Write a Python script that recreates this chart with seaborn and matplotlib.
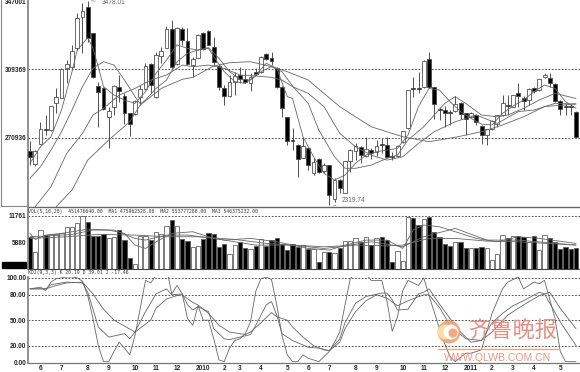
import matplotlib.pyplot as plt
from matplotlib.patches import Circle, Rectangle
import numpy as np
import pandas as pd
import seaborn as sns

# weekly candles
opens = [2634,2559,2675,2757,2752,2905,2933,3098,3107,3210,3387,3440,3294,3000,2987,2823,2883,2995,2942,2845,
         2843,2935,2980,3120,2939,3169,3214,3320,3122,3318,3253,3114,3156,3296,3309,3217,3109,2985,2942,3023,
         3060,3040,3017,3075,3077,3176,3157,3100,2993,2825,2696,2668,2596,2651,2512,2591,2522,2553,2363,2471,
         2400,2580,2636,2658,2608,2638,2628,2671,2668,2606,2606,2683,2761,2989,2987,2993,3148,2991,2870,2862,
         2853,2858,2903,2845,2826,2838,2774,2724,2755,2785,2836,2890,2883,2957,2929,2920,2989,2976,3047,3045,
         3008,2914,2886,2886,2855]
closes = [2602,2634,2755,2750,2884,2935,3094,3120,3193,3378,3419,3270,3051,2967,2868,2860,2997,2970,2845,2783,
          2914,2980,3113,3004,3172,3193,3316,3103,3324,3257,3122,3148,3285,3204,3230,3135,2995,2944,3023,3057,
          3038,3021,3047,3068,3163,3150,3137,2991,2877,2692,2692,2589,2664,2557,2570,2516,2555,2385,2471,2424,
          2576,2639,2660,2610,2643,2621,2660,2668,2600,2598,2662,2744,2974,2982,2984,3139,2991,2898,2866,2849,
          2849,2899,2840,2812,2847,2798,2722,2755,2804,2834,2903,2884,2946,2942,2916,2980,2972,3036,3058,3017,
          2916,2870,2883,2883,2714]
highs = [2692,2639,2798,2836,2886,2985,3098,3144,3229,3406,3462,3478,3298,3023,2991,2883,3004,3060,2957,2849,
         2920,3004,3126,3126,3191,3219,3335,3369,3328,3331,3322,3163,3288,3303,3313,3275,3116,3004,3060,3079,
         3107,3088,3070,3098,3167,3186,3191,3107,2999,2826,2761,2671,2714,2654,2593,2595,2565,2557,2481,2475,
         2580,2643,2677,2662,2711,2649,2696,2705,2711,2630,2666,2748,2978,3047,3079,3144,3191,2995,2883,2886,
         2864,2942,2907,2849,2851,2841,2780,2759,2808,2838,2948,2948,2950,3013,2942,2985,2995,3040,3073,3073,
         3013,2920,2901,2898,2858]
lows = [2555,2552,2671,2724,2748,2845,2929,3017,3088,3200,3182,3247,3042,2770,2864,2649,2836,2911,2785,2718,
        2836,2892,2976,2957,2929,3126,3210,3098,3116,3229,3116,3047,3154,3200,3227,3116,2976,2892,2935,2948,
        3013,3013,2972,3060,3073,3144,3116,2985,2826,2668,2639,2490,2593,2527,2499,2512,2512,2331,2350,2396,
        2396,2518,2583,2565,2602,2587,2606,2621,2596,2583,2602,2679,2757,2939,2961,2989,2987,2812,2808,2770,
        2780,2855,2812,2724,2817,2780,2673,2668,2752,2767,2832,2836,2879,2883,2864,2892,2957,2972,3043,2995,
        2911,2836,2836,2836,2711]

# the four price averages
ma_a_idx = [0,2,4,6,8,9,11,12,13,14,16,18,20,22,24,26,28,30,32,34,35,37,39,41,43,45,47,49,50,52,54,56,58,60,62,
            64,66,68,70,72,74,76,78,80,82,84,86,88,90,92,94,96,98,100,102,104]
ma_a = [2565,2658,2714,2864,3079,3200,3270,3210,3107,2995,2948,2920,2901,2967,3070,3144,3229,3210,3200,3210,3163,
        3079,3023,3013,3060,3126,3098,2939,2929,2714,2602,2509,2471,2499,2565,2611,2630,2639,2649,2724,2883,2985,
        2976,2911,2855,2817,2785,2780,2845,2886,2920,2967,3004,2985,2911,2873]
ma_b_idx = [0,2,4,6,8,10,12,14,16,18,20,21,22,24,26,28,30,32,34,36,38,40,42,44,46,48,50,53,55,58,60,62,65,68,70,
            72,75,77,79,81,83,86,89,91,94,97,100,104]
ma_b = [2481,2546,2639,2742,2864,2995,3098,3135,3116,3032,2939,2898,2920,2985,3032,3135,3182,3200,3214,3154,3079,
        3036,3032,3079,3107,3079,2999,2901,2752,2602,2537,2537,2555,2593,2611,2696,2770,2836,2901,2939,2901,2836,
        2826,2836,2873,2920,2957,2929]
ma_c_idx = [1,4,7,10,12,14,17,20,23,26,29,31,34,37,40,43,46,48,50,53,56,59,62,65,68,71,74,77,81,85,89,93,96,100,104]
ma_c = [2322,2434,2621,2733,2836,2873,2948,2985,3032,3060,3116,3107,3116,3098,3060,3055,3047,3032,2995,2957,2883,
        2733,2658,2611,2583,2602,2677,2742,2798,2836,2789,2855,2864,2901,2898]
ma_d_idx = [5,8,11,15,19,21,25,29,31,35,38,42,46,49,53,56,59,62,65,71,76,81,86,90,94,98,104]
ma_d = [2322,2415,2583,2696,2798,2892,2985,3036,3047,3111,3129,3135,3107,3079,3032,2957,2883,2826,2770,2714,2686,
        2711,2742,2780,2826,2883,2898]

volumes = [7068,3571,8482,7440,7589,7589,7812,9300,9300,10044,11681,10416,7217,7291,7589,6696,7068,8556,6324,2381,
           893,7291,7291,6398,8184,7589,9449,10788,9449,6547,6101,4836,4985,6547,7812,7589,4762,5357,3125,5208,
           5878,4464,4315,5059,6547,5059,6398,6696,5357,4166,5357,4836,5208,4241,4241,1414,3720,3571,3497,4464,
           6101,6101,6696,5803,7068,5208,6696,6919,6324,1488,3869,1637,11458,11160,9672,11011,11458,8184,6919,5431,
           5059,5803,5803,4613,4613,4613,4836,4464,1860,3199,7440,6696,7217,7217,6994,5952,7217,4092,7440,6845,
           5803,4241,4836,4390,4464]
vol_ma1_idx = [0,1,3,6,10,11,15,18,20,22,24,27,31,35,37,42,47,50,53,57,60,64,68,71,73,75,78,80,85,89,93,97,104]
vol_ma1 = [7812,6473,7440,7812,8556,8779,8556,7812,5208,4464,5952,7812,8184,6696,6324,6696,5952,5208,4464,4092,
           5208,6324,6324,4464,8556,9672,9300,8556,6696,5952,7068,6696,5580]
vol_ma2_idx = [0,4,8,12,16,20,22,26,30,35,39,43,50,56,60,65,71,75,81,87,93,104]
vol_ma2 = [7068,7291,7589,8556,8556,6696,6324,7440,7440,6696,5952,5208,5208,4836,5059,5952,4836,7068,8928,6324,6324,5208]
vol_ma3_idx = [0,7,13,20,26,32,39,45,50,56,62,68,71,76,81,87,93,104]
vol_ma3 = [6696,7068,7589,7440,7068,7068,6473,5580,5208,4464,5208,5059,5208,6696,6696,6101,5952,5208]

# KDJ panel; J runs off the top of the panel above 100
j_idx = [0,2,3,4,5,7,8,9,10,11,12,13,14,15,16,17,18,19,20,21,22,23,24,25,26,27,28,29,30,31,32,33,34,35,36,37,38,39,40,
         41,42,43,44,45,46,47,48,49,50,51,52,53,55,57,58,59,60,61,63,65,67,68,69,70,71,72,74,75,76,78,79,80,81,83,84,86,
         88,90,91,93,94,96,97,98,100,101,102,104]
j_line = [87,89,85,95,99,101,101,100,96,79,52,20,1,1,13,24,17,9,32,64,97,94,103,112,112,81,91,81,52,44,67,50,50,28,3,1,
          17,26,28,34,48,84,99,101,98,68,32,9,1,1,9,5,1,13,24,36,68,99,112,97,97,72,37,54,85,97,91,100,79,40,22,7,1,11,
          11,15,58,87,95,101,87,95,93,97,52,13,1,1]
k_idx = [0,2,3,4,7,10,11,12,13,15,18,19,20,22,24,26,27,29,30,31,32,34,35,37,38,40,42,43,45,46,47,48,50,53,55,57,59,60,
         62,64,67,68,69,70,72,74,75,76,78,80,82,84,86,88,90,92,94,97,98,101,104]
k_line = [87,87,87,92,95,94,83,63,42,30,34,28,36,60,81,87,80,81,68,62,66,60,40,28,27,30,33,44,68,72,56,34,26,18,17,14,
          28,47,70,78,82,82,74,62,63,81,83,87,69,52,36,24,26,47,58,67,73,83,81,48,20]
d_idx = [0,3,5,7,10,12,14,16,20,23,24,26,28,29,31,32,34,36,38,41,42,44,46,47,49,50,52,54,56,57,59,60,62,64,66,68,70,72,
         75,76,78,80,83,86,88,91,94,97,99,101,104]
d_line = [87,87,91,94,95,81,63,50,36,50,64,75,79,80,71,68,58,44,36,33,36,47,59,54,50,42,30,20,15,14,24,40,60,73,80,76,
          67,73,80,80,65,44,28,26,36,56,68,79,83,64,40]

price_ticks = [3470, 3093.69, 2709.36]
price_labels = ['347001', '309369', '270936']
vol_ticks = [11761, 5880]
vol_labels = ['11761', '5880']
kdj_ticks = [100, 80, 50, 20]
kdj_labels = ['100.00', '80.00', '50.00', '20.00']
month_idx = [2,6,11,15,20,24,28,33,37,40,44,49,53,57,62,66,71,75,79,84,88,92,96,101]
month_labels = ['6','7','8','9','10','11','12','2010','2','3','4','5','6','7','8','9','10','11','12','2011','2','3','4','5']

vol_title = 'VOL(5,10,20)  451476640.00  MA1 475962528.00  MA2 553777280.00  MA3 546375232.00'
kdj_title = 'KDJ(9,3,3) K 20.19 D 39.01 J -17.46'

sns.set_style('white')
plt.rcParams['font.family'] = ['Liberation Sans', 'Noto Sans CJK SC', 'DejaVu Sans']

W, H = 580, 372
fig = plt.figure(figsize=(W / 100, H / 100), dpi=100)

def panel(top, bottom):
    return fig.add_axes([28 / W, 1 - bottom / H, (W - 28) / W, (bottom - top) / H])

ax_p = panel(0, 207)
ax_v = panel(207, 268.5)
ax_k = panel(277, 362.5)

idx = np.arange(len(opens))
df = pd.DataFrame({'idx': idx, 'open': opens, 'close': closes, 'high': highs, 'low': lows, 'vol': volumes})
df['dir'] = np.where(df['close'] >= df['open'], 'up', 'down')

line_c = '#666666'
line_w = 0.6

# price panel
body = (df['close'] - df['open']).abs().clip(lower=4)
bottom = df[['open', 'close']].min(axis=1)
ax_p.vlines(df['idx'], df['low'], df['high'], color='#444444', lw=0.65, zorder=2)
ax_p.bar(df['idx'], body, bottom=bottom, width=0.76, linewidth=0.55, edgecolor='#444444',
         color=df['dir'].map({'up': 'white', 'down': 'black'}), zorder=3)
for xs, ys in [(ma_a_idx, ma_a), (ma_b_idx, ma_b), (ma_c_idx, ma_c), (ma_d_idx, ma_d)]:
    sns.lineplot(x=xs, y=ys, ax=ax_p, color=line_c, lw=line_w, zorder=4)
ax_p.set_ylim(2320, 3481)
ax_p.set_yticks(price_ticks, price_labels)
for p in price_ticks[1:]:
    ax_p.axhline(p, color='#333333', lw=0.6, dashes=(2, 2), zorder=1)
ax_p.annotate('3478.01', xy=(11.1, 3478), xytext=(13.6, 3466), fontsize=4.8, color='#666666', va='center',
              arrowprops=dict(arrowstyle='-', color='#888888', lw=0.5))
ax_p.annotate('2319.74', xy=(57.3, 2322), xytext=(59.4, 2358), fontsize=4.8, color='#666666', va='center',
              arrowprops=dict(arrowstyle='-', color='#888888', lw=0.5))

# volume panel
sns.barplot(data=df, x='idx', y='vol', hue='dir', palette={'up': 'white', 'down': 'black'}, dodge=False,
            native_scale=True, legend=False, width=0.78, edgecolor='#555555', linewidth=0.55, ax=ax_v, zorder=2)
for xs, ys in [(vol_ma1_idx, vol_ma1), (vol_ma2_idx, vol_ma2), (vol_ma3_idx, vol_ma3)]:
    sns.lineplot(x=xs, y=ys, ax=ax_v, color=line_c, lw=line_w, zorder=4)
ax_v.set_ylim(0, 13690)
ax_v.set_yticks(vol_ticks, vol_labels)
ax_v.axhline(vol_ticks[0], color='#333333', lw=0.6, dashes=(2, 2), zorder=1)
ax_v.text(0, 0.93, vol_title, transform=ax_v.transAxes, family='DejaVu Sans Mono', fontsize=3.4,
          color='#333333', va='center', ha='left')

# KDJ panel
for xs, ys in [(j_idx, j_line), (k_idx, k_line), (d_idx, d_line)]:
    sns.lineplot(x=xs, y=ys, ax=ax_k, color=line_c, lw=line_w, zorder=4)
ax_k.set_ylim(0, 101)
ax_k.set_yticks(kdj_ticks + [0], kdj_labels + ['0.00'])
for k in kdj_ticks:
    ax_k.axhline(k, color='#333333', lw=0.6, dashes=(2, 2), zorder=1)
ax_k.text(0, 1.02, kdj_title, transform=ax_k.transAxes, family='DejaVu Sans Mono', fontsize=3.4,
          color='#333333', va='bottom', ha='left')
ax_k.set_xticks(month_idx, month_labels)

for ax in [ax_p, ax_v, ax_k]:
    ax.set_xlim(-0.38, 104.76)
    ax.set_xlabel('')
    ax.set_ylabel('')
    ax.tick_params(axis='y', length=0, pad=1, labelsize=4.7)
    for lab in ax.get_yticklabels():
        lab.set_fontweight('bold')
    for s in ['top', 'right', 'bottom']:
        ax.spines[s].set_visible(False)
    ax.spines['left'].set_color('#888888')
    ax.spines['left'].set_linewidth(1.3)
    ax.patch.set_alpha(0)
ax_p.set_xticks([])
ax_v.set_xticks([])
for ax, col, lw in [(ax_p, '#666666', 1.0), (ax_v, '#444444', 0.8), (ax_k, '#777777', 0.9)]:
    ax.spines['bottom'].set_visible(True)
    ax.spines['bottom'].set_color(col)
    ax.spines['bottom'].set_linewidth(lw)
ax_k.tick_params(axis='x', length=0, pad=1.5, labelsize=4.7)
for lab in ax_k.get_xticklabels():
    lab.set_fontweight('bold')

# black box, left frame and watermark, placed in pixels
over = fig.add_axes([0, 0, 1, 1], zorder=10)
over.set_xlim(0, W)
over.set_ylim(H, 0)
over.axis('off')
over.patch.set_alpha(0)
over.add_patch(Rectangle((2, 262), 24, 6, color='black'))
over.plot([0.5, 0.5, 27], [0, 206, 206], color='#888888', lw=0.8)
orange = '#f0a070'
salmon = '#e68f84'
over.add_patch(Circle((449, 332), 11.5, fc=orange, ec='none', alpha=0.9))
over.add_patch(Circle((445, 332), 7.5, fc='#f9e4a8', ec='none', alpha=0.9))
over.add_patch(Circle((451, 332), 7.5, fc='white', ec='none', alpha=0.95))
over.add_patch(Circle((453, 333), 4.5, fc=orange, ec='none', alpha=0.9))
over.text(513, 331, '齐鲁晚报', color=salmon, fontsize=16, ha='center', va='center',
          family=['Noto Sans CJK SC', 'DejaVu Sans'])
over.plot([438, 558], [349, 349], color=orange, lw=0.8)
over.text(498, 358, 'WWW.QLWB.COM.CN', color='#ea9880', fontsize=7.6, ha='center', va='center',
          family='Liberation Sans')

fig.savefig('out.png', dpi=100)
